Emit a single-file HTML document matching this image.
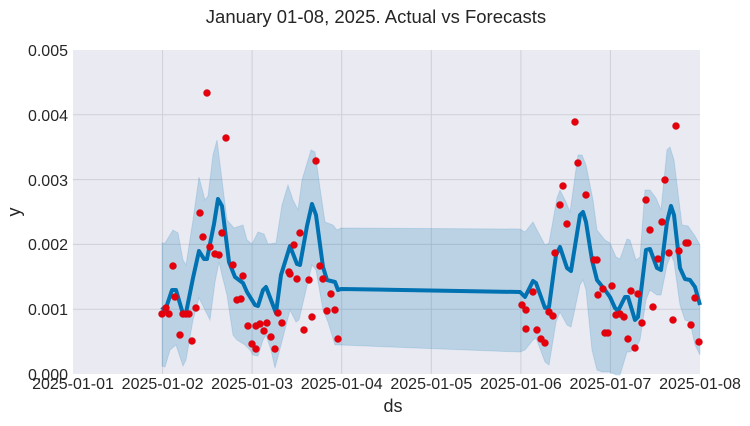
<!DOCTYPE html>
<html><head><meta charset="utf-8"><style>
body{margin:0;background:#fff;width:750px;height:421px;overflow:hidden}
svg text{font-family:"Liberation Sans",sans-serif;fill:#262626}
</style></head><body>
<svg width="750" height="421" viewBox="0 0 750 421" xmlns="http://www.w3.org/2000/svg">
<rect x="73" y="50" width="627" height="324" fill="#eaeaf2"/>
<g stroke="#cfcfd7" stroke-width="1">
<line x1="73" y1="114.8" x2="700" y2="114.8"/><line x1="73" y1="179.6" x2="700" y2="179.6"/>
<line x1="73" y1="244.4" x2="700" y2="244.4"/><line x1="73" y1="309.2" x2="700" y2="309.2"/>
<line x1="162.6" y1="50" x2="162.6" y2="374"/><line x1="252.1" y1="50" x2="252.1" y2="374"/>
<line x1="341.7" y1="50" x2="341.7" y2="374"/><line x1="431.3" y1="50" x2="431.3" y2="374"/>
<line x1="520.9" y1="50" x2="520.9" y2="374"/><line x1="610.4" y1="50" x2="610.4" y2="374"/>
</g>
<polygon fill="#0072B2" fill-opacity="0.2" stroke="#0072B2" stroke-opacity="0.15" points="162,243 165,243 173,230 178,233 183,260 186,265 193,220 199,177 205,200 208,196 213,155 217,140 222,180 227,220 234,228 243,225 247,240 252,244 258,232 264,234 268,244 276,243 282,205 288,185 293,200 298,210 302,180 311,150 315,152 320,188 325,222 333,225 337,230 341,228 520,229 525,232 533,222 536,228 545,245 549,243 557,198 560,190 566,202 570,212 578,155 582,155 586,165 593,200 597,230 605,240 610,243 616,257 620,259 627,239 630,240 636,260 640,257 645,190 650,190 656,198 661,210 667,150 670,147 674,160 682,225 688,226 695,236 700,245 700,355 695,345 690,322 685,320 680,305 674,262 671,255 667,265 661,295 657,295 650,290 646,300 640,340 636,348 630,352 627,352 620,375 616,375 610,372 602,372 597,370 592,350 586,290 583,280 580,285 571,327 567,325 560,312 556,322 549,365 545,362 536,338 533,340 525,350 520,352 341,345 335,345 328,322 323,310 316,270 312,265 306,290 299,320 296,322 290,310 281,345 275,368 271,350 266,335 263,340 258,356 253,355 250,350 245,345 237,340 233,335 227,295 222,275 219,262 215,282 210,320 205,310 199,298 193,320 186,360 183,366 176,345 170,350 165,367 162,366"/>
<polyline fill="none" stroke="#0072B2" stroke-width="4" stroke-linejoin="round" points="162,307 165,311 172,290 176,290 183,314 186,313 193,278 199,251 204,259 207,259 214,224 218,199 222,206 229,262 235,277 243,283 247,292 255,305 258,306 263,290 266,287 271,300 276,313 281,275 290,246 297,264 300,265 307,226 312,204 316,215 323,267 327,280 335,282 338,290 341,289 520,292 525,297 533,281 536,283 545,308 549,307 556,255 560,247 567,268 571,271 580,215 583,212 586,222 592,260 597,280 605,290 610,297 615,308 618,311 625,297 628,297 635,320 638,317 646,250 650,249 657,268 661,270 667,222 671,206 674,215 680,268 685,279 690,280 695,287 700,305"/>
<g fill="#e6000b" stroke="#c8101a" stroke-width="0.5">
<circle cx="162" cy="314" r="3.5"/><circle cx="166" cy="308" r="3.5"/><circle cx="169" cy="314" r="3.5"/><circle cx="173" cy="266" r="3.5"/><circle cx="175" cy="297" r="3.5"/><circle cx="180" cy="335" r="3.5"/><circle cx="183" cy="314" r="3.5"/><circle cx="186" cy="314" r="3.5"/><circle cx="189" cy="314" r="3.5"/><circle cx="192" cy="341" r="3.5"/><circle cx="196" cy="308" r="3.5"/><circle cx="200" cy="213" r="3.5"/><circle cx="203" cy="237" r="3.5"/><circle cx="207" cy="93" r="3.5"/><circle cx="210" cy="247" r="3.5"/><circle cx="215" cy="254" r="3.5"/><circle cx="219" cy="255" r="3.5"/><circle cx="222" cy="233" r="3.5"/><circle cx="226" cy="138" r="3.5"/><circle cx="233" cy="265" r="3.5"/><circle cx="243" cy="276" r="3.5"/><circle cx="237" cy="300" r="3.5"/><circle cx="241" cy="299" r="3.5"/><circle cx="248" cy="326" r="3.5"/><circle cx="252" cy="344" r="3.5"/><circle cx="256" cy="326" r="3.5"/><circle cx="260" cy="324" r="3.5"/><circle cx="264" cy="331" r="3.5"/><circle cx="267" cy="323" r="3.5"/><circle cx="271" cy="337" r="3.5"/><circle cx="256" cy="349" r="3.5"/><circle cx="275" cy="349" r="3.5"/><circle cx="278" cy="313" r="3.5"/><circle cx="282" cy="323" r="3.5"/><circle cx="289" cy="272" r="3.5"/><circle cx="290" cy="274" r="3.5"/><circle cx="294" cy="245" r="3.5"/><circle cx="297" cy="279" r="3.5"/><circle cx="300" cy="233" r="3.5"/><circle cx="304" cy="330" r="3.5"/><circle cx="309" cy="280" r="3.5"/><circle cx="312" cy="317" r="3.5"/><circle cx="316" cy="161" r="3.5"/><circle cx="320" cy="266" r="3.5"/><circle cx="323" cy="279" r="3.5"/><circle cx="327" cy="311" r="3.5"/><circle cx="331" cy="294" r="3.5"/><circle cx="335" cy="310" r="3.5"/><circle cx="338" cy="339" r="3.5"/>
<circle cx="522" cy="305" r="3.5"/><circle cx="526" cy="310" r="3.5"/><circle cx="526" cy="329" r="3.5"/><circle cx="533" cy="292" r="3.5"/><circle cx="537" cy="330" r="3.5"/><circle cx="541" cy="339" r="3.5"/><circle cx="545" cy="343" r="3.5"/><circle cx="549" cy="312" r="3.5"/><circle cx="553" cy="316" r="3.5"/><circle cx="555" cy="253" r="3.5"/><circle cx="560" cy="205" r="3.5"/><circle cx="563" cy="186" r="3.5"/><circle cx="567" cy="224" r="3.5"/><circle cx="575" cy="122" r="3.5"/><circle cx="578" cy="163" r="3.5"/><circle cx="586" cy="195" r="3.5"/><circle cx="597" cy="260" r="3.5"/><circle cx="594" cy="260" r="3.5"/><circle cx="598" cy="295" r="3.5"/><circle cx="603" cy="289" r="3.5"/><circle cx="605" cy="333" r="3.5"/><circle cx="608" cy="333" r="3.5"/><circle cx="612" cy="286" r="3.5"/><circle cx="616" cy="315" r="3.5"/><circle cx="620" cy="314" r="3.5"/><circle cx="624" cy="317" r="3.5"/><circle cx="628" cy="339" r="3.5"/><circle cx="635" cy="348" r="3.5"/><circle cx="631" cy="291" r="3.5"/><circle cx="638" cy="294" r="3.5"/><circle cx="642" cy="323" r="3.5"/><circle cx="646" cy="200" r="3.5"/><circle cx="650" cy="230" r="3.5"/><circle cx="653" cy="307" r="3.5"/><circle cx="658" cy="259" r="3.5"/><circle cx="662" cy="222" r="3.5"/><circle cx="665" cy="180" r="3.5"/><circle cx="669" cy="253" r="3.5"/><circle cx="673" cy="320" r="3.5"/><circle cx="676" cy="126" r="3.5"/><circle cx="679" cy="251" r="3.5"/><circle cx="686" cy="243" r="3.5"/><circle cx="688" cy="243" r="3.5"/><circle cx="695" cy="298" r="3.5"/><circle cx="691" cy="325" r="3.5"/><circle cx="699" cy="342" r="3.5"/>
</g>
<text x="376" y="23" font-size="18.5" text-anchor="middle">January 01-08, 2025. Actual vs Forecasts</text>
<g font-size="16" text-anchor="end">
<text x="68" y="56">0.005</text><text x="68" y="121">0.004</text><text x="68" y="186">0.003</text><text x="68" y="250">0.002</text><text x="68" y="315">0.001</text><text x="68" y="380">0.000</text>
</g>
<g font-size="16" text-anchor="middle">
<text x="73" y="389">2025-01-01</text><text x="162.6" y="389">2025-01-02</text><text x="252.1" y="389">2025-01-03</text><text x="341.7" y="389">2025-01-04</text><text x="431.3" y="389">2025-01-05</text><text x="520.9" y="389">2025-01-06</text><text x="610.4" y="389">2025-01-07</text><text x="700" y="389">2025-01-08</text>
</g>
<text x="393" y="412" font-size="18" text-anchor="middle">ds</text>
<text x="20" y="212" font-size="18" text-anchor="middle" transform="rotate(-90 20 212)">y</text>
</svg>
</body></html>
